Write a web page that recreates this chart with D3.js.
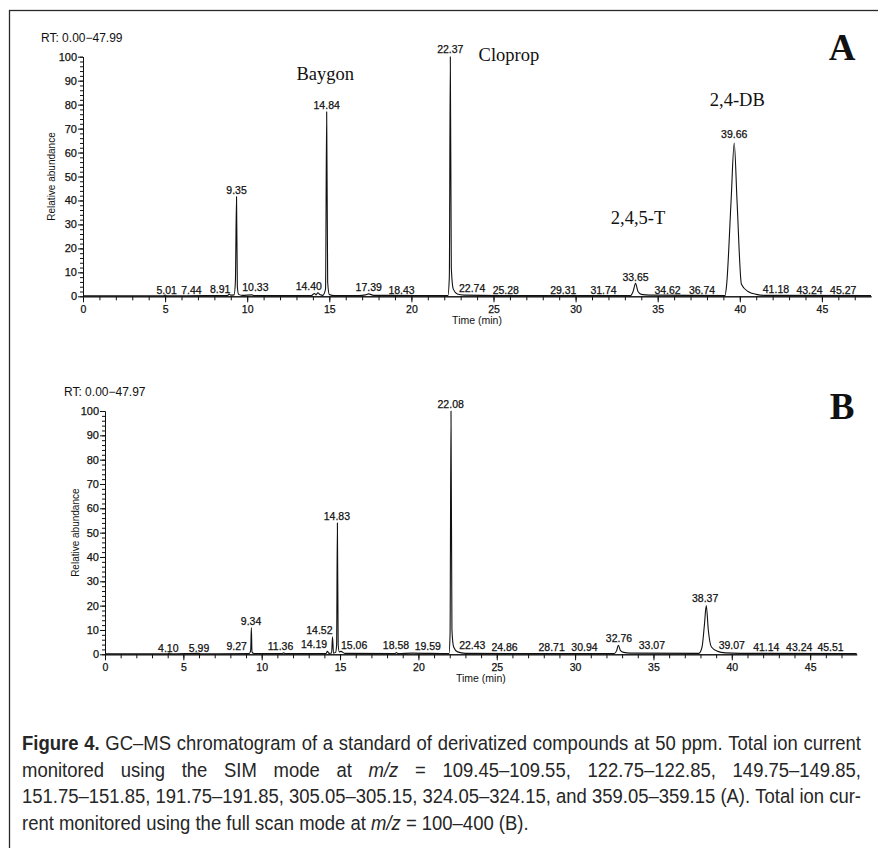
<!DOCTYPE html>
<html>
<head>
<meta charset="utf-8">
<script src="https://cdn.jsdelivr.net/npm/d3@7"></script>
<style>
  html, body { margin: 0; padding: 0; background: #fff; }
  svg { display: block; }
</style>
</head>
<body>
<svg id="fig" width="878" height="848"></svg>
<script>
// ── Data ──────────────────────────────────────────────────────────────────────

// Panel A, SIM mode: [time (min), relative abundance]
const traceA = [
  [0, 0.2], [4.9, 0.2], [5.0, 0.5], [5.1, 0.2], [7.4, 0.3], [8.8, 0.3], [8.9, 0.9],
  [9.0, 0.5], [9.2, 0.6], [9.28, 6], [9.35, 41.6], [9.4, 4], [9.48, 0.8], [9.7, 0.4],
  [10.3, 0.6], [10.4, 0.3], [13.9, 0.3], [14.1, 1.2], [14.2, 0.6], [14.3, 1.5],
  [14.45, 0.6], [14.6, 0.4], [14.77, 3], [14.84, 77], [14.9, 6], [15.0, 0.8],
  [15.3, 0.3], [16.8, 0.3], [17.2, 0.6], [17.4, 1.0], [17.7, 0.4], [18.4, 0.4],
  [22.22, 0.3], [22.31, 8], [22.37, 100], [22.43, 12], [22.55, 3], [22.8, 1],
  [23.2, 0.5], [25.2, 0.3], [33.35, 0.3], [33.5, 2], [33.65, 5.4], [33.8, 2],
  [34.0, 0.8], [34.5, 0.5], [39.1, 0.3], [39.2, 5], [39.47, 40], [39.66, 64],
  [39.83, 40], [40.1, 5], [40.5, 2], [41.0, 0.8], [41.5, 0.4], [47.99, 0.3]
];

// Panel B, full scan mode
const traceB = [
  [0, 0.2], [4.0, 0.2], [4.1, 0.5], [4.2, 0.2], [5.99, 0.4], [6.1, 0.2], [9.2, 0.3],
  [9.27, 1], [9.3, 2], [9.34, 11], [9.38, 1], [9.5, 0.3], [11.3, 0.3], [11.4, 0.6],
  [11.5, 0.3], [14.1, 0.3], [14.19, 1.2], [14.3, 0.4], [14.46, 0.5], [14.52, 7.2],
  [14.58, 0.5], [14.72, 0.8], [14.78, 4], [14.83, 54], [14.88, 4], [14.95, 1],
  [15.06, 1.2], [15.3, 0.4], [18.5, 0.3], [18.6, 0.7], [18.7, 0.3], [19.6, 0.5],
  [21.95, 0.3], [22.02, 8], [22.08, 100], [22.14, 10], [22.25, 3], [22.5, 1],
  [23.0, 0.4], [32.5, 0.3], [32.65, 1.5], [32.76, 3.7], [32.9, 1.5], [33.1, 0.8],
  [33.5, 0.5], [37.9, 0.4], [38.1, 3], [38.25, 12], [38.37, 20], [38.5, 10],
  [38.7, 3], [39.1, 1.2], [39.6, 0.6], [40.5, 0.4], [47.97, 0.3]
];

// Retention-time labels: [text, time anchor, abundance level of the label]
const labelsA = [
  ['5.01', 5.1, 0.9], ['7.44', 6.6, 0.9], ['8.91', 8.35, 1.3], ['9.35', 9.35, 42.7],
  ['10.33', 10.5, 2.2], ['14.40', 13.75, 2.6], ['14.84', 14.84, 78.3],
  ['17.39', 17.4, 2.2], ['18.43', 19.4, 0.9], ['22.37', 22.37, 101.5],
  ['22.74', 23.7, 1.8], ['25.28', 25.75, 0.9], ['29.31', 29.25, 0.9],
  ['31.74', 31.7, 0.9], ['33.65', 33.65, 6.4], ['34.62', 35.6, 0.9],
  ['36.74', 37.7, 0.9], ['39.66', 39.66, 65.9], ['41.18', 42.2, 1.3],
  ['43.24', 44.25, 0.9], ['45.27', 46.3, 0.9]
];

const labelsB = [
  ['4.10', 4.04, 1.1], ['5.99', 6.0, 1.1], ['9.27', 8.4, 1.8], ['9.34', 9.32, 12],
  ['11.36', 11.2, 1.8], ['14.19', 13.34, 2.5], ['14.52', 13.68, 8.2],
  ['14.83', 14.8, 55], ['15.06', 15.9, 2.1], ['18.58', 18.57, 2.2],
  ['19.59', 20.6, 1.8], ['22.08', 22.06, 101.2], ['22.43', 23.44, 2.1],
  ['24.86', 25.5, 1.5], ['28.71', 28.5, 1.5], ['30.94', 30.6, 1.5],
  ['32.76', 32.8, 5], ['33.07', 34.9, 2.1], ['38.37', 38.3, 21.4],
  ['39.07', 40.0, 2.1], ['41.14', 42.2, 1.4], ['43.24', 44.3, 1.4], ['45.51', 46.3, 1.4]
];

// Compound names written over panel A: [name, time, abundance]
const compoundsA = [
  ['Baygon', 14.75, 90.3], ['Cloprop', 25.94, 98.2],
  ['2,4-DB', 39.85, 79.4], ['2,4,5-T', 33.8, 30.2]
];

const xMajorTicks = d3.range(0, 46, 5);
const xMinorTicks = d3.range(0, 48, 1);
const yMajorTicks = d3.range(0, 101, 10);
const yMinorTicks = d3.range(0, 101, 2);

// Caption lines: segments of [text, style]
const captionLines = [
  [['Figure 4.', 'b'], [' GC–MS chromatogram of a standard of derivatized compounds at 50 ppm. Total ion current', '']],
  [['monitored using the SIM mode at ', ''], ['m/z', 'i'], [' = 109.45–109.55, 122.75–122.85, 149.75–149.85,', '']],
  [['151.75–151.85, 191.75–191.85, 305.05–305.15, 324.05–324.15, and 359.05–359.15 (A). Total ion cur-', '']],
  [['rent monitored using the full scan mode at ', ''], ['m/z', 'i'], [' = 100–400 (B).', '']]
];

// ── Layout ────────────────────────────────────────────────────────────────────

const SANS  = '"Liberation Sans", Arial, sans-serif';
const SERIF = '"Liberation Serif", "Times New Roman", serif';
const INK   = '#111';

const panels = [
  { trace: traceA, labels: labelsA, compounds: compoundsA, tMax: 47.99,
    rt: 'RT: 0.00\u221247.99', letter: 'A',
    left: 83, right: 871, bottom: 296.3, top: 56.7,
    rtX: 41, rtY: 41.7, yTitleX: 54.5, letterY: 60 },
  { trace: traceB, labels: labelsB, compounds: [], tMax: 47.97,
    rt: 'RT: 0.00\u221247.97', letter: 'B',
    left: 105, right: 856.7, bottom: 654.3, top: 411,
    rtX: 64, rtY: 395.7, yTitleX: 79, letterY: 419 }
];

const svg = d3.select('#fig');
svg.append('rect').attr('width', 878).attr('height', 848).attr('fill', '#fff');

// outer frame (right and bottom edges fall outside the crop)
svg.append('rect')
  .attr('x', 9.5).attr('y', 10.5).attr('width', 900).attr('height', 900)
  .attr('fill', 'none').attr('stroke', '#2a2a2a').attr('stroke-width', 1.3);

function styleAxis(sel, size) {
  sel.attr('font-family', SANS).attr('font-size', size);
  sel.selectAll('path, line').attr('stroke', INK).attr('stroke-width', 1);
  sel.selectAll('text').attr('fill', INK)
    .attr('stroke', INK).attr('stroke-width', 0.25);
}

function drawPanel(p) {
  const x = d3.scaleLinear().domain([0, p.tMax]).range([p.left, p.right]);
  const y = d3.scaleLinear().domain([0, 100]).range([p.bottom, p.top]);
  const g = svg.append('g');

  // ── Axes ──
  g.append('g').attr('transform', `translate(0,${p.bottom})`)
    .call(d3.axisBottom(x).tickValues(xMinorTicks).tickSize(4).tickSizeOuter(0).tickFormat(''))
    .call(s => styleAxis(s, 10.5));
  g.append('g').attr('transform', `translate(0,${p.bottom})`)
    .call(d3.axisBottom(x).tickValues(xMajorTicks).tickSize(6).tickSizeOuter(0)
      .tickPadding(3).tickFormat(d3.format('d')))
    .call(s => styleAxis(s, 10.5));

  g.append('g').attr('transform', `translate(${p.left},0)`)
    .call(d3.axisLeft(y).tickValues(yMinorTicks).tickSize(3).tickSizeOuter(0).tickFormat(''))
    .call(s => styleAxis(s, 11));
  g.append('g').attr('transform', `translate(${p.left},0)`)
    .call(d3.axisLeft(y).tickValues(yMajorTicks).tickSize(5).tickSizeOuter(0)
      .tickPadding(1).tickFormat(d3.format('d')))
    .call(s => styleAxis(s, 11));

  // ── Axis titles ──
  g.append('text')
    .attr('x', (p.left + p.right) / 2).attr('y', p.bottom + 27.7)
    .attr('text-anchor', 'middle').attr('font-family', SANS).attr('font-size', 10.5)
    .attr('fill', INK).text('Time (min)');
  g.append('text')
    .attr('transform', `translate(${p.yTitleX},${(p.top + p.bottom) / 2}) rotate(-90)`)
    .attr('text-anchor', 'middle').attr('font-family', SANS).attr('font-size', 10)
    .attr('fill', INK).text('Relative abundance');

  g.append('text')
    .attr('x', p.rtX).attr('y', p.rtY)
    .attr('font-family', SANS).attr('font-size', 12).attr('fill', INK).text(p.rt);

  // ── Trace ──
  const line = d3.line()
    .x(d => x(d[0]))
    .y(d => y(d[1]))
    .curve(d3.curveMonotoneX);
  g.append('path')
    .datum(p.trace)
    .attr('d', line)
    .attr('fill', 'none')
    .attr('stroke', INK)
    .attr('stroke-width', 1.1)
    .attr('stroke-linejoin', 'round');

  // ── Retention-time labels ──
  g.append('g').selectAll('text')
    .data(p.labels)
    .enter().append('text')
      .attr('x', d => x(d[1]))
      .attr('y', d => y(d[2]))
      .attr('text-anchor', 'middle')
      .attr('font-family', SANS)
      .attr('font-size', 10.5)
      .attr('fill', INK)
      .attr('stroke', INK)
      .attr('stroke-width', 0.25)
      .text(d => d[0]);

  // ── Compound names ──
  g.append('g').selectAll('text')
    .data(p.compounds)
    .enter().append('text')
      .attr('x', d => x(d[1]))
      .attr('y', d => y(d[2]))
      .attr('text-anchor', 'middle')
      .attr('font-family', SERIF)
      .attr('font-size', 18.5)
      .attr('fill', INK)
      .text(d => d[0]);

  // ── Panel letter ──
  g.append('text')
    .attr('x', 842).attr('y', p.letterY)
    .attr('text-anchor', 'middle')
    .attr('font-family', SERIF).attr('font-weight', 'bold').attr('font-size', 37)
    .attr('fill', '#111').text(p.letter);
}

panels.forEach(drawPanel);

// ── Caption: word-justified, slightly condensed ──────────────────────────────

const capLeft = 22, capRight = 861;
const capBase = [750, 776.5, 803, 829.5];
const capSize = 19.5;
const capFont = '"Liberation Sans Narrow", "Liberation Sans", Arial, sans-serif';

// width of a normal space at the caption size
const probe = svg.append('text').attr('font-family', capFont).attr('font-size', capSize)
  .attr('xml:space', 'preserve').style('white-space', 'pre');
probe.text('a a');
const wSpaced = probe.node().getComputedTextLength();
probe.text('aa');
const spaceW = wSpaced - probe.node().getComputedTextLength();
probe.remove();

const capRows = captionLines.map(segs => {
  const t = svg.append('text')
    .attr('font-family', capFont)
    .attr('font-size', capSize)
    .attr('fill', '#262626');
  const words = [];
  segs.forEach(([txt, st]) => {
    txt.split(' ').filter(w => w.length).forEach(w => {
      const ts = t.append('tspan')
        .attr('font-weight', st === 'b' ? 'bold' : null)
        .attr('font-style', st === 'i' ? 'italic' : null)
        .text(w);
      words.push({ node: ts, w: ts.node().getComputedTextLength() });
    });
  });
  return { t, words, sum: d3.sum(words, d => d.w) };
});

const target = capRight - capLeft;
const justified = capRows.slice(0, -1);
const sx = d3.min(justified, r => target / (r.sum + spaceW * (r.words.length - 1)));

capRows.forEach((r, i) => {
  const last = i === capRows.length - 1;
  const gap = last ? spaceW : (target / sx - r.sum) / (r.words.length - 1);
  let cx = 0;
  r.words.forEach(wd => {
    wd.node.attr('x', cx).attr('y', 0);
    cx += wd.w + gap;
  });
  r.t.attr('transform', `translate(${capLeft},${capBase[i]}) scale(${sx},1)`);
});
</script>
</body>
</html>
